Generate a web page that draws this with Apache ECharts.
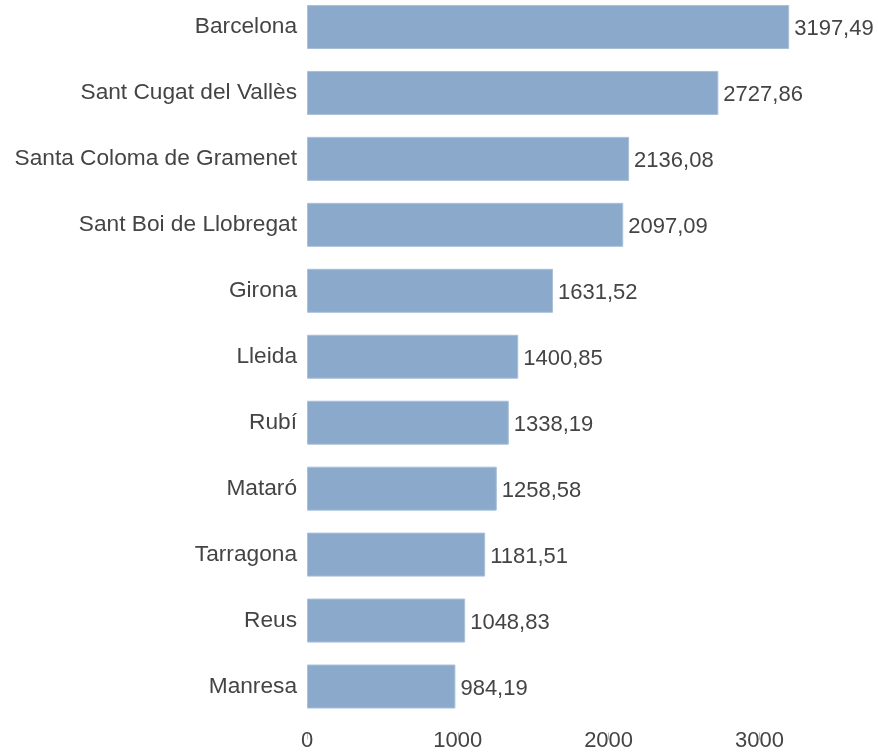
<!DOCTYPE html>
<html>
<head>
<meta charset="utf-8">
<script src="https://cdn.jsdelivr.net/npm/echarts@6/dist/echarts.min.js"></script>
<style>
html,body{margin:0;padding:0;background:#fff;}
#chart{width:878px;height:754px;}
</style>
</head>
<body>
<div id="chart"></div>
<script>
const categories = ["Barcelona","Sant Cugat del Vallès","Santa Coloma de Gramenet","Sant Boi de Llobregat","Girona","Lleida","Rubí","Mataró","Tarragona","Reus","Manresa"];
const values = [3197.49,2727.86,2136.08,2097.09,1631.52,1400.85,1338.19,1258.58,1181.51,1048.83,984.19];
const xTicks = [0,1000,2000,3000];

const chart = echarts.init(document.getElementById('chart'));
const FONT = '"Liberation Sans", Arial, sans-serif';
chart.setOption({
  animation:false,
  grid:{left:307, width:603.2, top:-6, bottom:34.5, containLabel:false, outerBoundsMode:'none'},
  xAxis:{
    type:'value', min:0, max:4000, interval:1000,
    offset:13,
    axisLine:{show:false},
    axisTick:{show:true, length:7, lineStyle:{color:'#bbbbbb'}},
    axisLabel:{margin:-3, fontSize:22, color:'#444', fontFamily:FONT, showMaxLabel:false,
      formatter:v=>xTicks.includes(v)?String(v):''},
    splitLine:{show:false}
  },
  yAxis:{
    type:'category', data:categories, inverse:true,
    axisLine:{show:false}, axisTick:{show:false},
    axisLabel:{margin:10, fontSize:22.7, color:'#444', fontFamily:FONT, padding:[4,0,0,0]}
  },
  series:[{
    type:'bar', data:values, barCategoryGap:'33.3%',
    itemStyle:{color:'#8BA9CA', borderColor:'#A9C0DA', borderWidth:1},
    label:{show:true, position:'right', distance:5, offset:[0,2], fontSize:22, color:'#444', fontFamily:FONT,
      formatter:p=>p.value.toFixed(2).replace('.', ',')}
  }]
});
</script>
</body>
</html>
